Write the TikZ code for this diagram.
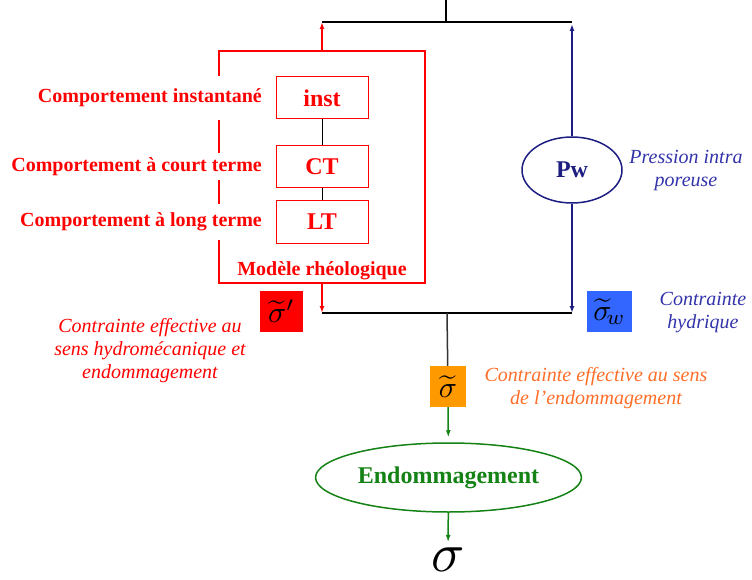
\documentclass[tikz,border=0pt]{standalone}
\usepackage{graphicx}
\usepackage{fontspec}
\setmainfont{Liberation Serif}
\usetikzlibrary{arrows.meta,shapes.geometric}

\definecolor{navyline}{RGB}{30,30,130}
\definecolor{bluetext}{RGB}{51,51,170}
\definecolor{bluebox}{RGB}{51,102,255}
\definecolor{orangebox}{RGB}{255,153,0}
\definecolor{orangetext}{RGB}{255,110,40}
\definecolor{greenline}{RGB}{20,130,20}

\tikzset{
  comp/.style={draw=red, line width=1pt, minimum width=92pt, minimum height=42pt, text=red, font=\fontsize{24}{28}\selectfont\bfseries},
  desc/.style={text=red, fill=white, anchor=east, inner xsep=2pt, font=\fontsize{20}{23}\selectfont\bfseries},
  note/.style={align=center, font=\fontsize{20}{23}\selectfont\itshape},
  sigbox/.style={minimum height=41pt, inner sep=0pt},
  bar/.style={line width=2pt}
}

\begin{document}
\begin{tikzpicture}[x=1pt, y=-1pt, >={Latex[length=7pt,width=5pt]}]
	\useasboundingbox (0,0) rectangle (752,580);
	% modele rheologique
	\node[draw=red, line width=2pt, minimum width=206pt, minimum height=232pt] (modele) at (322,167) {};
	\node[desc, minimum height=44pt] (linst) at (264,98) {Comportement instantané};
	\node[desc, minimum height=27pt] (lct) at (264,167) {Comportement à court terme};
	\node[desc, minimum height=35pt] (llt) at (264,222) {Comportement à long terme};
	\node[comp, fill=white] (inst) at (322,98) {inst};
	\node[comp] (ct) at (322,167) {CT};
	\node[comp] (lt) at (322,222) {LT};
	\draw (inst) -- (ct);
	\draw (ct) -- (lt);
	\node[text=red, font=\fontsize{20}{23}\selectfont\bfseries] (nom) at (322,271) {Modèle rhéologique};
	% pression
	\node[ellipse, draw=navyline, line width=1.5pt, minimum width=100pt, minimum height=66pt, text=navyline, font=\fontsize{24}{28}\selectfont\bfseries] (pw) at (572,170) {Pw};
	\node[note, text=bluetext] (lpw) at (686,171) {Pression intra\\poreuse};
	% jonctions
	\coordinate (stub) at (446,0);
	\coordinate (haut) at (446,22);
	\coordinate (hg) at (322,22);
	\coordinate (hd) at (572,24);
	\coordinate (bas) at (447,313);
	\coordinate (bg) at (322,313);
	\coordinate (bd) at (572,313);
	\draw[bar] (stub) -- (haut);
	\draw[bar] (hg) -- (hd |- hg);
	\draw[bar] (bg) -- (bd);
	\draw[->, red, line width=1.5pt] (modele.north) -- (hg);
	\draw[->, red, line width=1.5pt] (modele.south) -- (bg);
	\draw[->, navyline, line width=1.5pt] (pw) -- (hd);
	\draw[->, navyline, line width=1.5pt] (pw) -- (bd);
	% contraintes
	\node[sigbox, fill=red, minimum width=43pt] (sigp) at (281.5,311.5) {\scalebox{3}{$\widetilde{\sigma}'$}};
	\node[note, text=red] (lsigp) at (150,351) {Contrainte effective au\\sens hydromécanique et\\endommagement};
	\node[sigbox, fill=bluebox, minimum width=45pt] (sigw) at (609.5,311.5) {\scalebox{3}{$\widetilde{\sigma}_{\!w}$}};
	\node[note, text=bluetext] (lsigw) at (703,313) {Contrainte\\hydrique};
	\node[sigbox, fill=orangebox, minimum width=36pt] (sigt) at (448,386.5) {\scalebox{3}{$\widetilde{\sigma}$}};
	\node[note, text=orangetext] (lsigt) at (596,388) {Contrainte effective au sens\\de l’endommagement};
	\draw[line width=1.5pt, black!80] (bas) -- (sigt);
	% endommagement
	\node[ellipse, draw=greenline, line width=1.5pt, minimum width=213pt, minimum height=69pt, text=greenline, font=\fontsize{24}{28}\selectfont\bfseries] (endo) at (448.5,477.5) {Endommagement};
	\node[inner sep=0pt] (sig) at (448,560) {\scalebox{5.5}{$\sigma$}};
	\draw[->, greenline, line width=1.5pt, shorten >=5pt] (sigt) -- (endo);
	\draw[->, greenline, line width=1.5pt, shorten >=6pt] (endo) -- (sig);
\end{tikzpicture}
\end{document}
